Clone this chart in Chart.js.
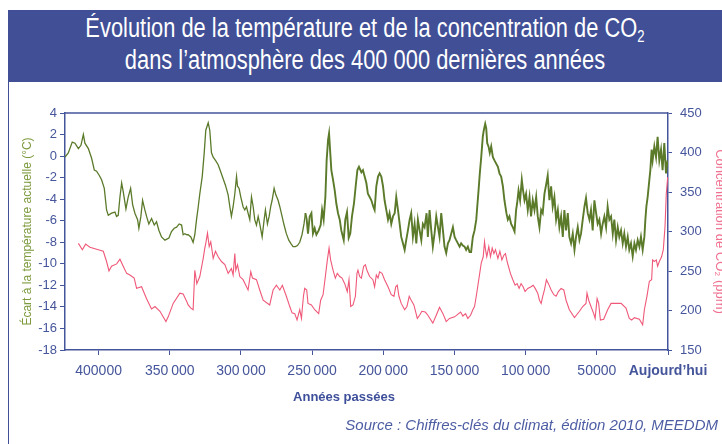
<!DOCTYPE html>
<html lang="fr">
<head>
<meta charset="utf-8">
<script src="https://cdn.jsdelivr.net/npm/chart.js@4.4.1/dist/chart.umd.min.js"></script>
<style>
  body { margin: 0; width: 722px; height: 444px; overflow: hidden; background: #fff; position: relative; font-family: "Liberation Sans", Arial, sans-serif; }
  .header { position: absolute; left: 8px; top: 10px; width: 714px; height: 72px; background: #404f96; }
  .header div { position: absolute; left: 0; width: 100%; text-align: center; color: #fff; font-family: "Liberation Sans Narrow", "Liberation Sans", sans-serif; font-size: 27px; line-height: 28px; transform: scaleX(0.81); }
  .header sub { font-size: 60%; vertical-align: -5px; line-height: 0; }
  .frame { position: absolute; left: 8px; top: 82px; height: 362px; border-left: 1px solid #404f96; }
  #wrap { position: absolute; left: 0; top: 0; width: 730px; height: 444px; }
  .xtitle { position: absolute; left: 244px; width: 200px; top: 389px; text-align: center; font-weight: bold; font-size: 13px; color: #3d4f9a; }
  .source { position: absolute; right: 4px; top: 416px; font-style: italic; font-size: 15px; color: #4d5da3; }
</style>
</head>
<body>
<div class="header">
  <div style="top: 4px">Évolution de la température et de la concentration de CO<sub>2</sub></div>
  <div style="top: 36px">dans l’atmosphère des 400 000 dernières années</div>
</div>
<div class="frame"></div>
<div id="wrap"><canvas id="chart" width="730" height="444"></canvas></div>
<div class="xtitle">Années passées</div>
<div class="source">Source : Chiffres-clés du climat, édition 2010, MEEDDM</div>
<script>
// ages in thousands of years before present
const tempAge = [
  423.6, 421.3, 418.5, 416.6, 414.2, 412.4, 410.7, 409.6, 407.2, 404.9,
  403.0, 401.4, 399.5, 397.9, 396.0, 394.4, 393.2, 390.9, 388.5, 387.4,
  386.2, 385.0, 383.8, 382.7, 380.8, 379.2, 377.5, 376.1, 374.5, 372.6,
  371.7, 370.3, 369.1, 367.5, 366.3, 364.7, 362.8, 360.9, 359.3, 357.6,
  355.8, 353.4, 350.6, 348.8, 346.9, 345.2, 343.4, 341.7, 340.6, 339.4,
  338.0,
  337.1, 335.2, 333.6, 332.4, 331.2, 330.0, 328.9, 327.2, 325.8, 324.7,
  323.0, 321.9, 320.7, 319.5, 317.9, 316.0, 314.1, 312.5, 310.9, 309.0,
  307.8, 306.7, 305.5, 304.3, 303.1, 302.4, 301.3, 300.1, 298.5, 297.3,
  296.1, 295.0, 293.8, 292.6, 291.4, 290.3, 289.1, 287.9, 286.8, 285.1,
  283.7, 282.8, 281.4, 280.2, 279.1, 278.1, 276.7, 275.5, 273.9, 272.7,
  271.1, 269.7, 268.1, 266.4, 265.0, 263.4, 261.7, 260.3, 258.7, 257.1,
  255.7, 254.7, 253.8,
  252.9, 251.7, 250.5, 249.4, 248.2, 247.0, 245.4, 244.0, 243.0, 241.9,
  240.7, 239.8, 238.8, 238.1, 237.4, 236.5, 235.3, 234.1, 233.0, 231.8,
  230.6, 229.5, 227.8, 226.7, 225.5, 224.3, 223.2, 222.0, 220.6, 219.4,
  218.2, 217.1, 215.4, 214.3, 213.1, 211.9, 210.8, 209.6, 208.4, 207.0,
  206.1, 204.9, 203.7, 202.6, 201.4, 200.2, 199.1, 197.9, 196.7, 195.6,
  194.4, 193.2, 192.0, 190.9, 189.7, 188.5, 187.4, 186.2, 185.0, 183.9,
  182.7, 181.5, 180.4, 179.2, 178.0, 176.8, 175.7, 174.5, 173.3, 172.2,
  171.0, 169.6,
  168.7, 167.5, 166.3, 165.2, 164.0, 162.8, 161.6, 160.5, 159.3, 158.1,
  157.0, 155.8, 154.6, 153.5, 152.3, 151.1, 149.9, 148.8, 147.6, 146.4,
  145.3, 144.1, 142.9, 141.8, 140.6, 139.4, 138.3, 137.1, 135.9, 134.7,
  134.0, 133.1, 132.2, 131.2, 130.1, 129.4, 128.4, 127.7, 127.0, 126.1,
  125.2, 124.2, 123.0, 121.9, 120.7, 119.5, 118.4, 117.2, 116.0, 114.9,
  114.2, 113.5, 112.5, 111.4, 110.2, 109.0, 107.8, 106.7, 106.0, 105.0,
  103.9, 102.7, 101.8, 100.8, 99.7, 98.5, 97.3, 96.2, 95.0, 93.8,
  92.6, 91.5, 90.3, 89.1, 88.0, 86.8, 85.4,
  84.5, 83.3, 82.1, 81.0, 79.8, 78.6, 77.4, 76.3, 75.1, 73.9,
  72.8, 71.6, 70.4, 69.3, 68.1, 66.9, 65.7, 64.6, 63.4, 62.2,
  61.1, 59.9, 58.7, 57.6, 56.4, 55.2, 54.1, 52.9, 51.7, 50.5,
  49.4, 48.2, 47.0, 45.9, 44.7, 43.5, 42.4, 41.2, 40.0, 38.8,
  37.7, 36.5, 35.3, 34.2, 33.0, 31.8, 30.7, 29.5, 28.3, 27.2,
  26.0, 24.8, 23.6, 22.5, 21.3, 20.1, 19.0, 17.8, 16.6, 15.9,
  15.2, 14.3, 13.1, 12.4, 11.5, 10.8, 9.6, 8.4, 7.3, 6.1,
  4.9, 3.8, 2.6, 1.4, 0.3
];
// temperature gap to today (°C)
const tempValue = [
  -0.1, 0.3, 1.3, 1.2, 0.7, 1.0, 2.0, 1.2, 0.7, -0.2,
  -1.3, -1.4, -1.8, -2.2, -3.0, -5.0, -5.5, -5.3, -5.2, -5.6,
  -5.5, -3.8, -2.5, -3.3, -4.9, -3.8, -3.0, -4.5, -5.3, -5.9,
  -6.7, -5.6, -4.1, -5.0, -5.6, -6.3, -5.8, -6.4, -6.1, -6.9,
  -7.5, -7.8, -7.6, -7.0, -6.7, -6.6, -6.3, -6.4, -7.3, -7.2,
  -7.3,
  -7.3, -7.5, -8.0, -7.3, -5.9, -4.7, -3.5, -1.9, 0.3, 2.4,
  3.1, 2.4, 0.3, -0.1, -0.4, -0.8, -1.5, -2.1, -2.7, -3.6,
  -4.7, -5.6, -4.7, -3.5, -1.9, -2.8, -3.0, -3.8, -4.7, -5.0,
  -4.7, -5.3, -5.9, -3.8, -4.7, -5.9, -6.4, -5.6, -6.3, -7.5,
  -5.9, -5.0, -6.3, -5.6, -4.7, -4.1, -3.0, -3.6, -4.1, -4.7,
  -5.6, -6.4, -7.2, -7.8, -8.1, -8.4, -8.4, -8.3, -8.0, -7.3,
  -6.3, -5.3, -5.9,
  -7.2, -5.6, -5.3, -7.2, -6.7, -7.3, -6.9, -6.4, -5.0, -5.9,
  -3.8, -0.4, 1.5, 2.1, 0.6, -1.3, -2.2, -3.2, -4.4, -5.3,
  -5.9, -6.9, -7.8, -5.9, -5.2, -7.6, -7.2, -5.6, -4.4, -2.8,
  -1.3, -1.0, -1.5, -1.3, -1.9, -2.5, -3.5, -3.8, -4.1, -4.7,
  -5.0, -2.8, -1.9, -1.6, -1.9, -2.8, -4.1, -5.0, -5.9, -5.3,
  -6.3, -5.6, -5.3, -3.8, -5.0, -6.3, -7.5, -8.1, -8.7, -7.8,
  -6.9, -5.9, -5.3, -7.5, -6.3, -8.1, -5.9, -6.9, -7.8, -6.3,
  -6.6, -5.3,
  -7.5, -5.0, -6.9, -8.4, -7.2, -5.6, -6.6, -7.5, -5.3, -6.9,
  -8.4, -9.0, -8.1, -7.8, -7.2, -6.6, -7.5, -7.8, -8.1, -8.4,
  -8.1, -8.3, -8.4, -8.7, -8.4, -8.9, -8.9, -7.5, -6.9, -5.9,
  -4.7, -3.2, -1.6, -0.1, 1.8, 2.4, 3.0, 2.6, 1.2, 0.9,
  0.3, 0.9, -0.1, -0.4, -0.7, -1.0, -1.6, -1.9, -2.8, -4.1,
  -4.7, -5.3, -5.9, -5.6, -6.3, -6.6, -7.0, -5.0, -4.4, -3.2,
  -4.1, -2.2, -3.2, -4.1, -3.5, -5.0, -3.8, -5.6, -4.1, -5.0,
  -3.8, -5.6, -6.6, -5.0, -5.3, -3.5, -2.5,
  -1.8, -4.1, -2.8, -4.7, -3.8, -5.9, -5.0, -6.6, -5.6, -7.5,
  -5.0, -6.9, -5.3, -7.5, -8.1, -7.2, -8.7, -7.5, -6.6, -7.8,
  -7.2, -5.9, -4.7, -3.9, -5.3, -5.9, -5.0, -6.9, -4.1, -5.3,
  -6.3, -5.9, -7.2, -6.3, -5.6, -6.6, -4.7, -5.9, -5.6, -7.2,
  -5.9, -7.8, -6.6, -7.5, -6.9, -8.1, -7.2, -8.4, -7.5, -8.7,
  -8.1, -9.3, -8.1, -8.7, -7.8, -8.4, -7.5, -8.7, -7.5, -5.9,
  -4.7, -3.8, -2.2, -1.3, 0.6, -0.4, 0.9, -0.1, 1.8, -0.4,
  0.6, -1.3, 1.2, -1.6, -0.4
];
const co2Age = [
  414.2, 411.4, 409.1, 406.1, 400.2, 396.7, 394.4, 392.7, 390.9, 387.3,
  385.0, 382.7, 380.3, 378.0, 375.0, 373.3, 369.8, 366.3, 362.8, 360.4,
  356.9, 352.7, 351.1, 347.6, 342.9, 340.6, 338.0,
  337.1, 335.2, 333.6, 332.4, 331.0, 328.9, 326.5, 325.4, 324.7, 323.5,
  322.3, 321.2, 319.5, 317.9, 316.0, 313.7, 311.3, 309.0, 306.7, 305.5,
  304.3, 303.6, 302.4, 300.8, 298.5, 295.0, 293.1, 291.9, 289.1, 286.8,
  284.4, 279.8, 277.4, 275.1, 272.7, 270.9, 268.1, 265.7, 264.1, 262.2,
  260.6, 258.7, 257.5, 256.1, 255.2, 253.8,
  252.9, 250.5, 248.2, 245.4, 244.0, 242.3, 240.7, 239.3, 238.1, 237.0,
  235.3, 233.7, 232.3, 230.6, 229.0, 227.1, 225.3, 224.1, 222.9, 221.3,
  219.6, 218.5, 217.8, 216.6, 215.4, 213.8, 212.6, 211.5, 209.6, 207.3,
  206.1, 204.9, 203.7, 202.6, 200.9, 199.1, 196.7, 194.4, 192.5, 191.3,
  190.2, 189.0, 187.4, 185.0, 183.4, 181.8, 180.4, 178.5, 176.1, 174.5,
  172.9, 170.5,
  168.7, 165.2, 162.8, 160.5, 158.1, 155.8, 153.5, 149.9, 145.7, 144.1,
  142.2, 140.6, 138.7, 137.1, 135.9, 134.7, 133.1, 131.2, 129.8, 128.9,
  128.2, 127.3, 125.9, 124.7, 123.5, 122.3, 121.2, 119.5, 118.1, 116.7,
  115.3, 114.2, 113.0, 112.1, 110.7, 109.0, 107.4, 106.0, 104.6, 103.2,
  101.8, 100.4, 98.5, 96.2, 94.7, 93.3, 91.5, 90.3, 89.1, 88.0,
  86.8, 85.4,
  84.0, 82.1, 80.2, 78.6, 77.0, 75.1, 73.2, 71.6, 69.3, 65.7,
  62.2, 59.9, 57.6, 56.9, 55.7, 54.1, 52.2, 51.2, 49.8, 48.7,
  47.5, 45.2, 42.4, 40.0, 36.5, 33.0, 29.5, 27.2, 25.5, 23.6,
  20.1, 17.8, 16.6, 14.8, 13.1, 11.5, 10.8, 9.6, 8.2, 7.3,
  6.1, 4.5, 3.3, 2.1, 1.2, 0.2
];
// CO2 concentration (ppm)
const co2Value = [
  285, 277, 284, 280, 277, 275, 262, 250, 256, 259,
  265, 256, 247, 245, 241, 228, 230, 215, 202, 205,
  199, 186, 192, 209, 222, 221, 211,
  207, 203, 201, 251, 234, 243, 266, 279, 285, 298,
  281, 287, 266, 275, 268, 262, 258, 247, 253, 245,
  272, 251, 258, 243, 239, 226, 249, 241, 239, 226,
  213, 207, 226, 232, 226, 232, 218, 205, 197, 196,
  188, 201, 190, 218, 228, 226,
  209, 207, 201, 196, 213, 220, 243, 264, 279, 264,
  251, 241, 247, 243, 241, 234, 224, 239, 205, 207,
  218, 247, 251, 243, 241, 256, 258, 251, 243, 239,
  230, 245, 241, 249, 247, 239, 230, 220, 218, 230,
  232, 218, 209, 201, 205, 218, 213, 207, 190, 194,
  199, 198,
  194, 184, 194, 204, 196, 186, 190, 192, 198, 193,
  196, 190, 194, 201, 205, 218, 237, 260, 268, 287,
  277, 268, 281, 268, 279, 272, 277, 266, 275, 264,
  270, 272, 262, 256, 247, 239, 232, 234, 228, 234,
  230, 224, 228, 230, 232, 228, 222, 213, 209, 218,
  226, 239,
  234, 226, 220, 218, 224, 228, 226, 213, 201, 191,
  199, 205, 209, 222, 213, 205, 196, 190, 215, 209,
  188, 189, 201, 209, 209, 209, 203, 190, 188, 191,
  189, 182, 201, 218, 237, 239, 264, 262, 264, 256,
  262, 268, 277, 306, 348, 369
];
const xTickValues = [400, 350, 300, 250, 200, 150, 100, 50, 0];
const xTickLabels = ["400000", "350\u2009000", "300\u2009000", "250\u2009000", "200\u2009000", "150\u2009000", "100\u2009000", "50000", "Aujourd’hui"];

const axisBlue = "#45559b";

// top edge of the plot frame
const frameTop = {
  id: "frameTop",
  afterDraw(chart) {
    const { ctx, chartArea } = chart;
    ctx.save();
    ctx.strokeStyle = axisBlue;
    ctx.lineWidth = 1.5;
    ctx.beginPath();
    ctx.moveTo(chartArea.left, chartArea.top);
    ctx.lineTo(chartArea.right, chartArea.top);
    ctx.stroke();
    ctx.restore();
  },
};

const ctx = document.getElementById("chart").getContext("2d");
new Chart(ctx, {
  type: "line",
  data: {
    datasets: [
      {
        label: "Température",
        data: tempAge.map((a, i) => ({ x: a, y: tempValue[i] })),
        yAxisID: "yT",
        borderColor: "#5b7a2a",
        borderWidth: 1.4,
        pointRadius: 0,
        // denser record in the last glacial cycles looks thicker
        segment: { borderWidth: (c) => (c.p0.parsed.x < 255 ? 1.9 : 1.3) },
      },
      {
        label: "CO2",
        data: co2Age.map((a, i) => ({ x: a, y: co2Value[i] })),
        yAxisID: "yC",
        borderColor: "#ef5878",
        borderWidth: 1.1,
        pointRadius: 0,
      },
    ],
  },
  options: {
    responsive: false,
    animation: false,
    layout: { padding: { top: 113, left: 0, right: 0, bottom: 0 } },
    plugins: { legend: { display: false }, tooltip: { enabled: false } },
    scales: {
      x: {
        type: "linear",
        reverse: true,
        min: 0,
        max: 423.6,
        afterBuildTicks: (s) => {
          s.ticks = xTickValues.map((v) => ({ value: v }));
        },
        afterFit: (s) => {
          s.height = 94;
        },
        ticks: {
          autoSkip: false,
          maxRotation: 0,
          padding: 8,
          color: axisBlue,
          font: (c) => ({
            family: "'Liberation Sans', Arial, sans-serif",
            size: 14,
            weight: c.tick && c.tick.value === 0 ? "bold" : "normal",
          }),
          callback: (v, i) => xTickLabels[i],
        },
        grid: { drawOnChartArea: false, tickLength: 5, color: axisBlue },
        border: { color: axisBlue, width: 1.5 },
      },
      yT: {
        position: "left",
        min: -18,
        max: 4,
        afterFit: (s) => {
          s.width = 65;
        },
        ticks: {
          stepSize: 2,
          padding: 3,
          color: axisBlue,
          font: { family: "'Liberation Sans', Arial, sans-serif", size: 13 },
        },
        grid: { drawOnChartArea: false, tickLength: 5, color: axisBlue },
        border: { color: axisBlue, width: 1.5 },
        title: {
          display: true,
          text: "Écart à la température actuelle (°C)",
          color: "#7c9a3c",
          font: { family: "'Liberation Sans Narrow', 'Liberation Sans', sans-serif", size: 12 },
          padding: { top: 20, bottom: 0 },
        },
      },
      yC: {
        position: "right",
        min: 150,
        max: 450,
        afterFit: (s) => {
          s.width = 62;
        },
        ticks: {
          stepSize: 50,
          padding: 8,
          color: axisBlue,
          font: { family: "'Liberation Sans', Arial, sans-serif", size: 13 },
        },
        grid: { drawOnChartArea: false, tickLength: 4, color: axisBlue },
        border: { color: axisBlue, width: 1.5 },
        title: {
          display: true,
          text: "Concentration de CO₂ (ppm)",
          color: "#f07090",
          font: { family: "'Liberation Sans Narrow', 'Liberation Sans', sans-serif", size: 13 },
          padding: { top: 3, bottom: 0 },
        },
      },
    },
  },
  plugins: [frameTop],
});
</script>
</body>
</html>
